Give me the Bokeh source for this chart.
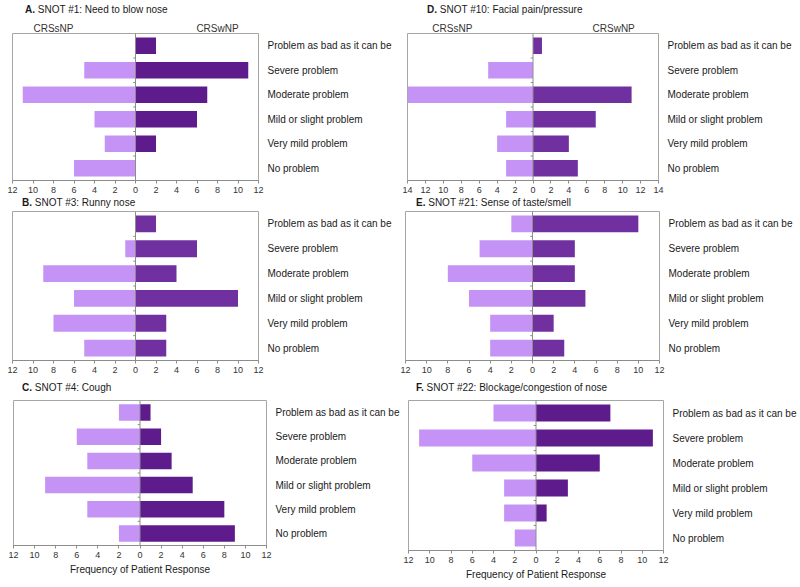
from bokeh.plotting import figure
from bokeh.layouts import row, column
from bokeh.models import FixedTicker, LinearAxis, Range1d, Span, ColumnDataSource, Div
from bokeh.embed import file_html
from bokeh.resources import INLINE

FONT = "Liberation Sans"

# Categories, bottom to top
categories = ["No problem", "Very mild problem", "Mild or slight problem",
              "Moderate problem", "Severe problem", "Problem as bad as it can be"]
groups = ["CRSsNP", "CRSwNP"]

# Frequencies per category (bottom to top)
a_snp = [6, 3, 4, 11, 5, 0]
a_wnp = [0, 2, 6, 7, 11, 2]
b_snp = [5, 8, 6, 9, 1, 0]
b_wnp = [3, 3, 10, 4, 6, 2]
c_snp = [2, 5, 9, 5, 6, 2]
c_wnp = [9, 8, 5, 3, 2, 1]
d_snp = [3, 4, 3, 14, 5, 0]
d_wnp = [5, 4, 7, 11, 0, 1]
e_snp = [4, 4, 6, 8, 5, 2]
e_wnp = [3, 2, 5, 4, 4, 10]
f_snp = [2, 3, 3, 6, 11, 4]
f_wnp = [0, 1, 3, 6, 11, 7]

ticks_12 = [-12, -10, -8, -6, -4, -2, 0, 2, 4, 6, 8, 10, 12]
ticks_14 = [-14, -12, -10, -8, -6, -4, -2, 0, 2, 4, 6, 8, 10, 12, 14]

LIGHT = "#c593f6"
DARK1 = "#5e1b8c"
DARK2 = "#7030a0"
GRID = "#8c8c8c"
TXT = "#1a1a1a"


def title_div(letter, title, width, height, pad):
    return Div(text=f"<b>{letter}</b> {title}", width=width, height=height, margin=0,
               styles={"font-family": FONT, "font-size": "10px", "color": TXT,
                       "line-height": f"{height}px", "padding-left": f"{pad}px",
                       "white-space": "nowrap", "box-sizing": "border-box"})


def panel(snp, wnp, ticks, dark, bleft, fw, bright, btop, fh, bbot,
          crs_at=None, xlabel=None):
    xmax = max(abs(t) for t in ticks)
    n = len(categories)
    p = figure(frame_width=fw, frame_height=fh,
               min_border_left=bleft, min_border_right=bright,
               min_border_top=btop, min_border_bottom=bbot,
               x_range=Range1d(-xmax, xmax), y_range=Range1d(0, n),
               y_axis_location="right", margin=0,
               output_backend="svg", toolbar_location=None)
    p.background_fill_color = "white"
    p.border_fill_color = "white"
    p.outline_line_color = "#a6a6a6"
    p.xgrid.visible = False
    p.ygrid.visible = False

    ys = [i + 0.5 for i in range(n)]
    src = ColumnDataSource(dict(y=ys, snp=[-v for v in snp], wnp=wnp,
                                zero=[0] * n, cat=categories))
    p.hbar(y="y", left="snp", right="zero", height=0.68, source=src,
           fill_color=LIGHT, line_color=None)
    p.hbar(y="y", left="zero", right="wnp", height=0.68, source=src,
           fill_color=dark, line_color=None)

    p.add_layout(Span(location=0, dimension="height", line_color=GRID, line_width=1))
    bounds = list(range(1, n))
    p.segment(x0=[-0.22 * xmax / 12] * len(bounds), y0=bounds,
              x1=[0] * len(bounds), y1=bounds, line_color=GRID, line_width=1)

    xa = p.xaxis[0]
    xa.ticker = FixedTicker(ticks=ticks)
    xa.major_label_overrides = {t: str(abs(t)) for t in ticks}
    xa.major_tick_out = 3
    xa.major_tick_in = 0
    xa.minor_tick_line_color = None
    xa.axis_line_color = GRID
    xa.major_tick_line_color = GRID
    xa.major_label_text_font = FONT
    xa.major_label_text_font_size = "9px"
    xa.major_label_text_color = "#333333"
    xa.major_label_standoff = 3
    if xlabel:
        xa.axis_label = xlabel
        xa.axis_label_text_font = FONT
        xa.axis_label_text_font_size = "10px"
        xa.axis_label_text_font_style = "normal"
        xa.axis_label_text_color = TXT
        xa.axis_label_standoff = 3

    ya = p.yaxis[0]
    ya.ticker = FixedTicker(ticks=ys)
    ya.major_label_overrides = {y: c for y, c in zip(ys, categories)}
    ya.axis_line_color = None
    ya.major_tick_line_color = None
    ya.minor_tick_line_color = None
    ya.major_tick_out = 0
    ya.major_tick_in = 0
    ya.major_label_standoff = 9
    ya.major_label_text_font = FONT
    ya.major_label_text_font_size = "10px"
    ya.major_label_text_color = TXT

    if crs_at is not None:
        top = LinearAxis(ticker=FixedTicker(ticks=[-crs_at, crs_at]),
                         major_label_overrides={-crs_at: groups[0], crs_at: groups[1]},
                         axis_line_color=None, major_tick_line_color=None,
                         minor_tick_line_color=None, major_tick_out=0, major_tick_in=0,
                         major_label_standoff=0,
                         major_label_text_font=FONT,
                         major_label_text_font_size="10px",
                         major_label_text_color="#333333")
        p.add_layout(top, "above")
    return p


XL = "Frequency of Patient Response"

ta = title_div("A.", "SNOT #1: Need to blow nose", 400, 19, 25)
td = title_div("D.", "SNOT #10: Facial pain/pressure", 400, 19, 27)
tb = title_div("B.", "SNOT #3: Runny nose", 400, 11, 22)
te = title_div("E.", "SNOT #21: Sense of taste/smell", 400, 11, 16)
tc = title_div("C.", "SNOT #4: Cough", 400, 11, 22)
tf = title_div("F.", "SNOT #22: Blockage/congestion of nose", 400, 11, 16)

pa = panel(a_snp, a_wnp, ticks_12, DARK1, 12, 246, 142, 14, 147, 17, crs_at=8)
pd_ = panel(d_snp, d_wnp, ticks_14, DARK2, 7, 251, 142, 14, 147, 17, crs_at=9)
pb = panel(b_snp, b_wnp, ticks_12, DARK2, 12, 246, 142, 3, 149, 22)
pe = panel(e_snp, e_wnp, ticks_12, DARK2, 5, 254, 141, 3, 149, 22)
pc = panel(c_snp, c_wnp, ticks_12, DARK1, 13, 253, 134, 7, 145, 36, xlabel=XL)
pf = panel(f_snp, f_wnp, ticks_12, DARK1, 6, 255, 139, 2, 150, 36, xlabel=XL)

layout = column(row(ta, td), row(pa, pd_),
                row(tb, te), row(pb, pe),
                row(tc, tf), row(pc, pf), spacing=0)

open("out.html", "w").write(file_html(layout, INLINE))
